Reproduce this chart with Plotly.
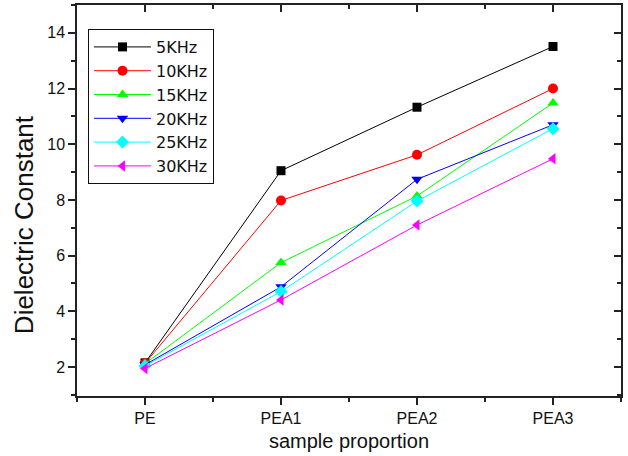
import plotly.graph_objects as go

categories = ["PE", "PEA1", "PEA2", "PEA3"]
series_names = ["5KHz", "10KHz", "15KHz", "20KHz", "25KHz", "30KHz"]
v5k = [2.15, 9.05, 11.33, 13.51]
v10k = [2.13, 7.98, 9.62, 12.00]
v15k = [2.12, 5.75, 8.14, 11.48]
v20k = [2.08, 4.88, 8.74, 10.70]
v25k = [2.04, 4.71, 7.96, 10.56]
v30k = [1.95, 4.41, 7.10, 9.48]
y_ticks = [2, 4, 6, 8, 10, 12, 14]

series = [v5k, v10k, v15k, v20k, v25k, v30k]
colors = ["#000000", "#FF0000", "#00FF00", "#0000FF", "#00FFFF", "#FF00FF"]
symbols = ["square", "circle", "triangle-up", "triangle-down", "diamond", "triangle-left"]
sizes = [9, 10, 10, 10, 10, 10]

xpos = list(range(len(categories)))
xr = [-0.5, len(categories) - 0.5]
yr = [0.96, 15.0]

fig = go.Figure()
for name, vals, c, s, sz in zip(series_names, series, colors, symbols, sizes):
    fig.add_trace(go.Scatter(
        x=xpos, y=vals, name=name, mode="lines+markers",
        line=dict(color=c, width=1),
        marker=dict(symbol=s, size=sz, color=c, line=dict(width=0)),
    ))

# dummy trace to create the mirror axes (top / right with inward ticks)
fig.add_trace(go.Scatter(x=[None], y=[None], xaxis="x2", yaxis="y2",
                         showlegend=False, hoverinfo="skip"))

axis_col = "#222222"
font = "Arial, Liberation Sans, sans-serif"

fig.update_layout(
    width=628, height=456,
    margin=dict(l=77, r=7, t=5, b=60),
    paper_bgcolor="white", plot_bgcolor="white",
    font=dict(family=font, color="#111111"),
    xaxis=dict(
        range=xr, tickmode="array", tickvals=xpos, ticktext=categories,
        ticks="outside", ticklen=7, tickwidth=1.5, tickcolor=axis_col,
        showline=True, linecolor=axis_col, linewidth=1.5,
        showgrid=False, zeroline=False,
        tickfont=dict(size=16),
        minor=dict(tickmode="linear", tick0=-0.5, dtick=1, ticks="outside",
                   ticklen=4, tickwidth=1.5, tickcolor=axis_col, showgrid=False),
        title=dict(text="sample proportion", font=dict(size=20), standoff=8),
    ),
    yaxis=dict(
        range=yr, tickmode="array", tickvals=y_ticks,
        ticks="outside", ticklen=7, tickwidth=1.5, tickcolor=axis_col,
        showline=True, linecolor=axis_col, linewidth=1.5,
        showgrid=False, zeroline=False,
        tickfont=dict(size=16),
        minor=dict(tickmode="linear", tick0=1, dtick=2, ticks="outside",
                   ticklen=4, tickwidth=1.5, tickcolor=axis_col, showgrid=False),
    ),
    xaxis2=dict(
        overlaying="x", side="top", range=xr, tickmode="array", tickvals=xpos,
        showticklabels=False, ticks="inside", ticklen=7, tickwidth=1.5,
        tickcolor=axis_col, showline=True, linecolor=axis_col, linewidth=1.5,
        showgrid=False, zeroline=False,
        minor=dict(tickmode="linear", tick0=-0.5, dtick=1, ticks="inside",
                   ticklen=4, tickwidth=1.5, tickcolor=axis_col, showgrid=False),
    ),
    yaxis2=dict(
        overlaying="y", side="right", range=yr, tickmode="array", tickvals=y_ticks,
        showticklabels=False, ticks="inside", ticklen=7, tickwidth=1.5,
        tickcolor=axis_col, showline=True, linecolor=axis_col, linewidth=1.5,
        showgrid=False, zeroline=False,
        minor=dict(tickmode="linear", tick0=1, dtick=2, ticks="inside",
                   ticklen=4, tickwidth=1.5, tickcolor=axis_col, showgrid=False),
    ),
    legend=dict(
        x=0.0202, y=0.9386, xanchor="left", yanchor="top",
        bgcolor="white", bordercolor="#111111", borderwidth=1,
        font=dict(size=16, family="DejaVu Sans, sans-serif"), itemwidth=57,
    ),
    annotations=[dict(
        text="Dielectric Constant", textangle=-90, showarrow=False,
        xref="paper", yref="paper", x=-0.0974, y=0.437,
        xanchor="center", yanchor="middle",
        font=dict(size=26, family=font, color="#111111"),
    )],
)

fig.write_html("out.html")
